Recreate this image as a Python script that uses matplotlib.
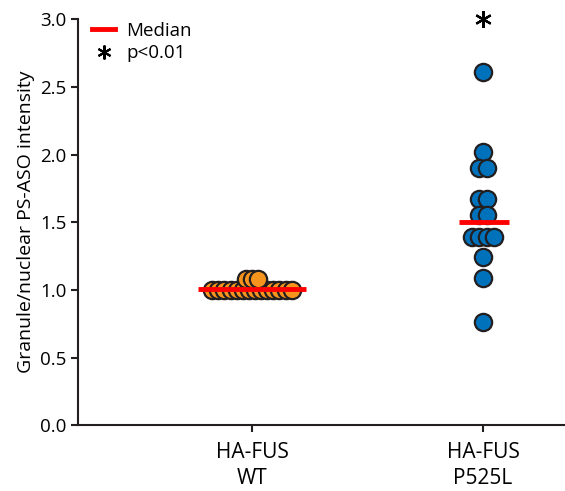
import numpy as np
import matplotlib.pyplot as plt
from matplotlib.lines import Line2D

plt.rcParams['font.family'] = ['Open Sans', 'DejaVu Sans']

groups = ['HA-FUS\nWT', 'HA-FUS\nP525L']

# values
wtValues = [1.0] * 14 + [1.08] * 3
mutValues = [2.61, 2.02, 1.90, 1.90, 1.67, 1.67, 1.55, 1.55,
             1.39, 1.39, 1.39, 1.39, 1.24, 1.09, 0.76]
medians = [1.01, 1.50]
sigMarker = 3.0


def swarmOffsets(values, spacing):
    # spread repeated values sideways, centred on the group position
    offsets = np.zeros(len(values))
    vals = np.array(values)
    for v in np.unique(vals):
        idx = np.where(vals == v)[0]
        n = len(idx)
        offsets[idx] = (np.arange(n) - (n - 1) / 2) * spacing
    return offsets


fig = plt.figure(figsize=(5.65, 4.91), dpi=100)
ax = fig.add_axes([0.138, 0.134, 0.862, 0.827])

edge = '#231F20'
ax.scatter(1 + swarmOffsets(wtValues, 0.0265), wtValues, s=155, color='#F7941D',
           edgecolor=edge, linewidth=1.6, zorder=3, clip_on=False)
ax.scatter(2 + swarmOffsets(mutValues, 0.033), mutValues, s=155, color='#0072BC',
           edgecolor=edge, linewidth=1.6, zorder=3, clip_on=False)

ax.plot([0.766, 1.234], [medians[0]] * 2, color='#FF0000', lw=3.5, zorder=4,
        solid_capstyle='butt')
ax.plot([1.896, 2.113], [medians[1]] * 2, color='#FF0000', lw=3.5, zorder=4,
        solid_capstyle='butt')

ax.plot([2], [sigMarker], marker=(6, 2, 0), ms=12, mew=1.6, color='black',
        clip_on=False, zorder=5)

ax.set_xlim(0.247, 2.355)
ax.set_ylim(0, 3.0)
ax.set_xticks([1, 2])
ax.set_xticklabels(groups, fontsize=15, linespacing=1.3)
ax.set_yticks(np.arange(0, 3.01, 0.5))
ax.set_yticklabels([f'{t:.1f}' for t in np.arange(0, 3.01, 0.5)], fontsize=13.5)
ax.set_ylabel('Granule/nuclear PS-ASO intensity', fontsize=14, labelpad=4)

for s in ['top', 'right']:
    ax.spines[s].set_visible(False)
for s in ['left', 'bottom']:
    ax.spines[s].set_linewidth(1.5)
    ax.spines[s].set_color(edge)
ax.tick_params(direction='out', length=5, width=1.5, color=edge)
ax.tick_params(axis='x', pad=7)
ax.tick_params(axis='y', pad=3)

handles = [Line2D([], [], color='#FF0000', lw=3.5),
           Line2D([], [], color='black', marker=(6, 2, 0), ms=10, mew=1.5, ls='none')]
ax.legend(handles, ['Median', 'p<0.01'], loc='upper left', bbox_to_anchor=(-0.005, 1.035),
          frameon=False, fontsize=13.5, handlelength=1.2, handletextpad=0.6,
          labelspacing=0.25)

fig.savefig('out.png', dpi=100)
